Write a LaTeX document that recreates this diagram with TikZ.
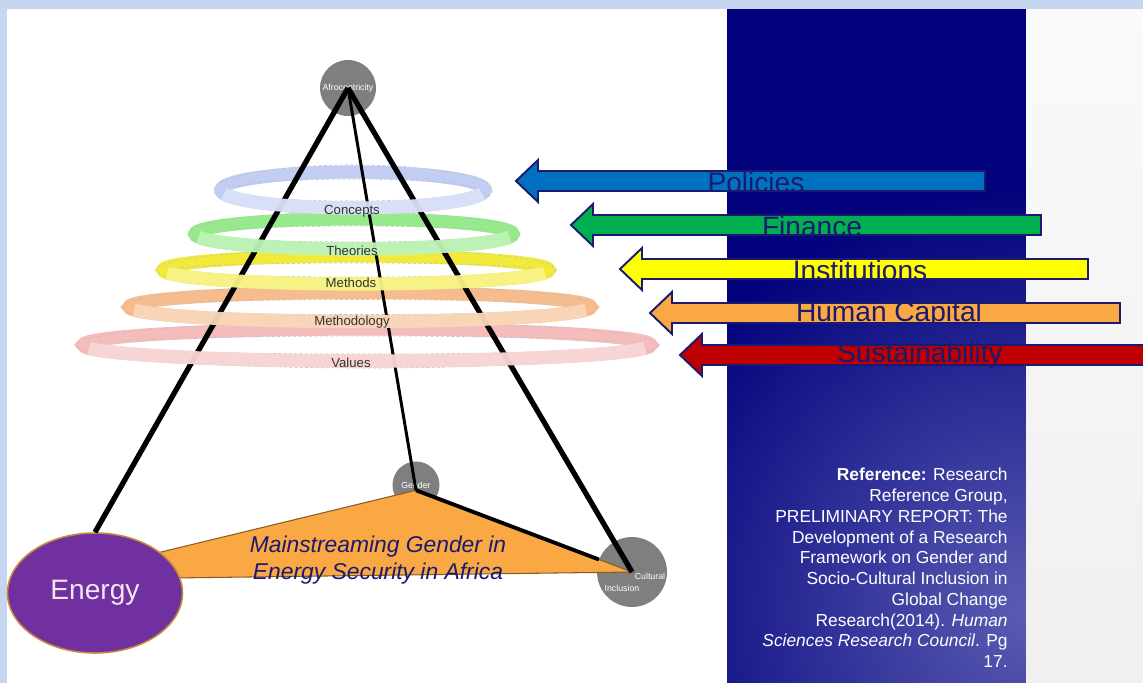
\documentclass[tikz,border=0pt]{standalone}
\usepackage{fontspec}
\setmainfont{Liberation Sans}
\usetikzlibrary{shapes.geometric}

\definecolor{framebg}{HTML}{C6D6EE}
\definecolor{panelnavy}{HTML}{02027C}
\definecolor{panellight}{HTML}{5A5CB2}
\definecolor{inknavy}{HTML}{1A1A70}
\definecolor{ringblue}{HTML}{C2CDF4}
\definecolor{ringgreen}{HTML}{96EA8C}
\definecolor{ringyellow}{HTML}{F2EA3A}
\definecolor{ringpeach}{HTML}{F6BC8E}
\definecolor{ringpink}{HTML}{F5BCBC}
\definecolor{policyblue}{HTML}{0070C0}
\definecolor{financegreen}{HTML}{00B050}
\definecolor{instyellow}{HTML}{FFFF00}
\definecolor{humanorange}{HTML}{F9A843}
\definecolor{sustainred}{HTML}{C00000}
\definecolor{energypurple}{HTML}{7030A0}
\definecolor{energyrim}{HTML}{C28A3A}
\definecolor{trifill}{HTML}{F9A843}
\definecolor{hubgrey}{HTML}{7F7F7F}

\tikzset{
  hub/.style={circle, fill=hubgrey, inner sep=0pt, text=white, font=\fontsize{5}{6}\selectfont},
  hubtext/.style={text=white, font=\fontsize{5}{6}\selectfont, inner sep=0pt},
  pillar/.style={line width=3pt},
  ring/.style={line width=7.5pt},
  ringfront/.style={line width=7.5pt, opacity=0.95},
  ringedge/.style={gray!50, line width=0.35pt, dash pattern=on 1.5pt off 1.5pt},
  ringlabel/.style={font=\fontsize{7.5}{9}\selectfont, text=black!80, inner sep=0pt},
  blockarrow/.style={draw=inknavy, line width=1.1pt, line join=miter},
  arrowlabel/.style={font=\fontsize{16}{18}\selectfont, text=inknavy, inner sep=0pt},
}

\begin{document}
\begin{tikzpicture}[x=0.02cm, y=-0.02cm]
\useasboundingbox (0,0) rectangle (1143,683);
\clip (0,0) rectangle (1143,683);

% slide background
\fill[framebg] (0,0) rectangle (1143,683);
\fill[white] (7,9) rectangle (727,683);
\fill[panelnavy] (727,9) rectangle (1026,683);
\begin{scope}
\clip (727,9) rectangle (1026,683);
\shade[inner color=panellight, outer color=panelnavy] (1026,610) circle [radius=420];
\end{scope}
\shade[top color=gray!4, bottom color=gray!12] (1026,9) rectangle (1143,683);

% rings (back)
\draw[ring, ringblue] (353,190) ellipse [x radius=132, y radius=18];
\draw[ringedge] (353,190) ellipse [x radius=139, y radius=25] (353,190) ellipse [x radius=125, y radius=11];

\draw[ring, ringgreen] (354,234) ellipse [x radius=159, y radius=15];
\draw[ringedge] (354,234) ellipse [x radius=166, y radius=22] (354,234) ellipse [x radius=152, y radius=8];

\draw[ring, ringyellow] (356,270) ellipse [x radius=193, y radius=14];
\draw[ringedge] (356,270) ellipse [x radius=200, y radius=21] (356,270) ellipse [x radius=186, y radius=7];

\draw[ring, ringpeach] (360,307) ellipse [x radius=231, y radius=14.5];
\draw[ringedge] (360,307) ellipse [x radius=238, y radius=21.5] (360,307) ellipse [x radius=224, y radius=7.5];

\draw[ring, ringpink] (367,345) ellipse [x radius=284, y radius=16];
\draw[ringedge] (367,345) ellipse [x radius=291, y radius=23] (367,345) ellipse [x radius=277, y radius=9];

% block arrows
\draw[blockarrow, fill=policyblue] (516,181) -- (538,160) -- (538,171) -- (985,171) -- (985,191) -- (538,191) -- (538,202) -- cycle;
\node[arrowlabel] (policies) at (756,182) {Policies};

\draw[blockarrow, fill=financegreen] (571,225) -- (593,204) -- (593,215) -- (1041,215) -- (1041,235) -- (593,235) -- (593,246) -- cycle;
\node[arrowlabel] (finance) at (812,226) {Finance};

\draw[blockarrow, fill=instyellow] (620,269) -- (642,248) -- (642,259) -- (1088,259) -- (1088,279) -- (642,279) -- (642,290) -- cycle;
\node[arrowlabel] (institutions) at (860,270) {Institutions};

\draw[blockarrow, fill=humanorange] (650,313) -- (672,292) -- (672,303) -- (1120,303) -- (1120,323) -- (672,323) -- (672,334) -- cycle;
\node[arrowlabel] (humancapital) at (889,314) {Human Capital};

\draw[blockarrow, fill=sustainred] (680,355) -- (702,334) -- (702,345) -- (1160,345) -- (1160,365) -- (702,365) -- (702,376) -- cycle;
\node[arrowlabel] (sustainability) at (920,355) {Sustainability};

% hubs
\node[hub, minimum size=1.12cm] (afro) at (348,88) {Afrocentricity};
\node[hub, minimum size=0.94cm] (gender) at (416,485) {Gender};
\node[hub, minimum size=1.4cm] (cultural) at (632,572) {};
\node[hubtext] (culturaltop) at (650,576) {Cultural};
\node[hubtext] (culturalbottom) at (622,588) {Inclusion};

% mainstreaming triangle
\fill[trifill, draw=trifill!55!black, line width=0.6pt] (95,568) -- ([yshift=-3pt]gender.center) -- (cultural.center) -- (95,579) -- cycle;
\node[ellipse, fill=energypurple, draw=energyrim, line width=0.9pt, minimum width=3.5cm, minimum height=2.4cm, inner sep=0pt, text=violet!10, font=\fontsize{16}{18}\selectfont] (energy) at (95,593) {Energy};
\node[align=center, text=inknavy, font=\fontsize{13}{15.3}\selectfont\itshape, inner sep=0pt] (mainstream) at (378,560) {Mainstreaming Gender in\\Energy Security in Africa};

% pillars
\draw[pillar] (afro.center) -- (energy.north);
\draw[line width=1.7pt] (afro.center) -- ([yshift=-3pt]gender.center);
\draw[pillar] (afro.center) -- (cultural.center);
\draw[line width=2.2pt] ([yshift=-3pt]gender.center) -- (cultural);

% rings (front)
\draw[ringfront, ringblue!60!white] (353,190) ++(12:132 and 18) arc [start angle=12, end angle=168, x radius=132, y radius=18];
\draw[ringfront, ringgreen!60!white] (354,234) ++(12:159 and 15) arc [start angle=12, end angle=168, x radius=159, y radius=15];
\draw[ringfront, ringyellow!60!white] (356,270) ++(12:193 and 14) arc [start angle=12, end angle=168, x radius=193, y radius=14];
\draw[ringfront, ringpeach!60!white] (360,307) ++(12:231 and 14.5) arc [start angle=12, end angle=168, x radius=231, y radius=14.5];
\draw[ringfront, ringpink!60!white] (367,345) ++(12:284 and 16) arc [start angle=12, end angle=168, x radius=284, y radius=16];

\node[ringlabel] (concepts) at (352,211) {Concepts};
\node[ringlabel] (theories) at (352,251) {Theories};
\node[ringlabel] (methods) at (351,283) {Methods};
\node[ringlabel] (methodology) at (352,322) {Methodology};
\node[ringlabel] (values) at (351,363) {Values};

% reference note
\node[anchor=north east, align=right, text=white, inner sep=0pt, font=\fontsize{9.9}{11.8}\selectfont] (refnote) at (1008,468)
  {\textbf{Reference:} Research\\Reference Group,\\PRELIMINARY REPORT: The\\Development of a Research\\Framework on Gender and\\Socio-Cultural Inclusion in\\Global Change\\Research(2014). \textit{Human}\\\textit{Sciences Research Council}. Pg\\17.};
\end{tikzpicture}
\end{document}
